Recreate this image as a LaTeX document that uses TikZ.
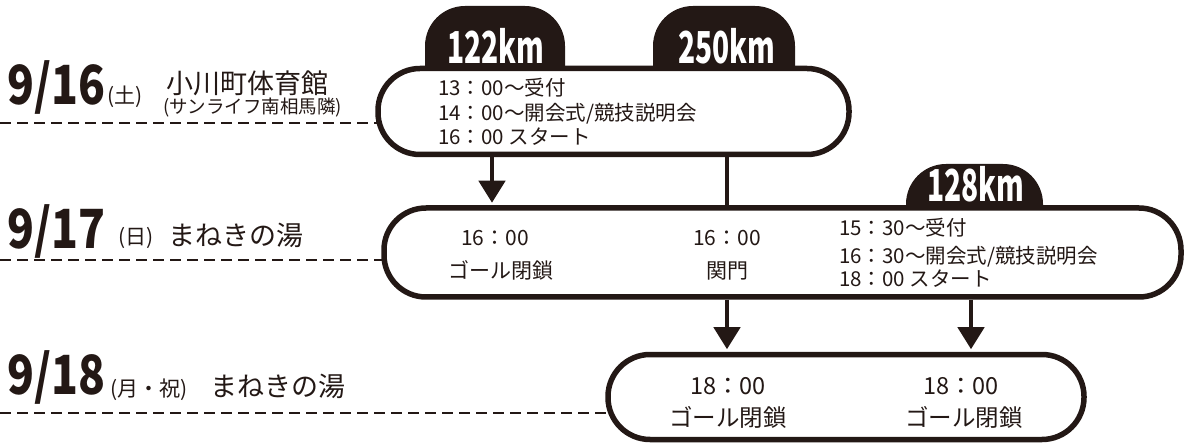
\documentclass[tikz,border=0pt]{standalone}
\usepackage{fontspec}
\usepackage{graphicx}
\setmainfont{Noto Sans CJK JP}
\usetikzlibrary{arrows.meta}
\pgfdeclarelayer{background}
\pgfsetlayers{background,main}
\definecolor{ink}{RGB}{35,24,21}
\newcommand\fsz[1]{\fontsize{#1}{#1}\selectfont}
\begin{document}
\begin{tikzpicture}[x=1pt,y=-1pt,
  stadium/.style={draw=ink, line width=5.5pt, fill=white, rounded corners=42pt, inner sep=0pt},
  tabshape/.style={fill=ink, rounded corners=40pt},
  tabtext/.style={text=white, anchor=base, inner sep=0pt, font=\bfseries\fsz{44}},
  dashline/.style={draw=ink, line width=2.4pt, dash pattern=on 11pt off 6pt},
  arr/.style={draw=ink, line width=4.5pt, -{Triangle[length=22pt,width=26pt]}, shorten >=2.5pt},
  plainline/.style={draw=ink, line width=4.5pt},
  txt/.style={text=ink, anchor=base west, inner sep=0pt, font=\fsz{20.5}},
  ctxt/.style={text=ink, anchor=base, inner sep=0pt, font=\fsz{21}},
  btxt/.style={text=ink, anchor=base, inner sep=0pt, font=\fsz{23.5}},
  date/.style={text=ink, anchor=base west, inner sep=0pt, font=\bfseries\fsz{54}},
  day/.style={text=ink, anchor=base west, inner sep=0pt, font=\fsz{21}},
  place/.style={text=ink, anchor=base west, inner sep=0pt, font=\fsz{27}},
  sub/.style={text=ink, anchor=base west, inner sep=0pt, font=\fsz{18.5}}
]
\useasboundingbox (0,0) rectangle (1185,443);

% left-hand row coordinates
\coordinate (d1) at (0,123);
\coordinate (d2) at (0,260);
\coordinate (d3) at (0,413);

% boxes
\node[stadium, minimum width=471pt, minimum height=86pt] (b1) at (613.5,111.5) {};
\node[stadium, minimum width=797pt, minimum height=89pt] (b2) at (782.5,252.5) {};
\node[stadium, minimum width=476pt, minimum height=85pt] (b3) at (846,397) {};

\begin{pgfonlayer}{background}
% tabs (boxes cover their lower part)
\fill[tabshape] (425,6) rectangle (565,130);
\fill[tabshape] (653,6) rectangle (795,130);
\fill[tabshape] (906,164) rectangle (1043,280);
% dashed lines (ending under the boxes)
\draw[dashline] (d1) -- (d1 -| b1.center);
\draw[dashline] (d2) -- (d2 -| b2.center);
\draw[dashline] (d3) -- (d3 -| b3.center);
\end{pgfonlayer}

% connector columns
\coordinate (c1) at (492,0);
\coordinate (c2) at (727,0);
\coordinate (c3) at (971,0);
\draw[arr] (b1.south -| c1) -- (b2.north -| c1);
\draw[plainline] (b1.south -| c2) -- (b2.north -| c2);
\draw[arr] (b2.south -| c2) -- (b3.north -| c2);
\draw[arr] (b2.south -| c3) -- (b3.north -| c3);

% tab labels
\node[tabtext] (t1) at (496,64) {\scalebox{0.64}[1]{122km}};
\node[tabtext] (t2) at (727,64) {\scalebox{0.64}[1]{250km}};
\node[tabtext] (t3) at (976,202) {\scalebox{0.64}[1]{128km}};

% box 1 text
\node[txt] (l11) at (438,95.5) {13：00～受付};
\node[txt] (l12) at (438,120.5) {14：00～開会式/競技説明会};
\node[txt] (l13) at (438,144.5) {16：00 スタート};

% box 2 text
\node[ctxt] (m1) at (495,246) {16：00};
\node[ctxt] (m2) at (501,279) {ゴール閉鎖};
\node[ctxt] (m3) at (727,246) {16：00};
\node[ctxt] (m4) at (727,279) {関門};
\node[txt] (r1) at (839,235.5) {15：30～受付};
\node[txt] (r2) at (839,263.5) {16：30～開会式/競技説明会};
\node[txt] (r3) at (839,286.5) {18：00 スタート};

% box 3 text
\node[btxt] (g1) at (728,394) {18：00};
\node[btxt] (g2) at (728,426) {ゴール閉鎖};
\node[btxt] (g3) at (961,394) {18：00};
\node[btxt] (g4) at (964,426) {ゴール閉鎖};

% row labels
\node[date] (dt1) at (7,105) {\scalebox{0.82}[1]{9/16}};
\node[day] (dy1) at (107,104) {(土)};
\node[place] (p1) at (166,94) {小川町体育館};
\node[sub] (s1) at (163,114) {(サンライフ南相馬隣)};

\node[date] (dt2) at (7,249) {\scalebox{0.82}[1]{9/17}};
\node[day] (dy2) at (118,245) {(日)};
\node[place] (p2) at (168,246) {まねきの湯};

\node[date] (dt3) at (7,394) {\scalebox{0.82}[1]{9/18}};
\node[day] (dy3) at (110,396) {(月・祝)};
\node[place] (p3) at (210,396) {まねきの湯};
\end{tikzpicture}
\end{document}
